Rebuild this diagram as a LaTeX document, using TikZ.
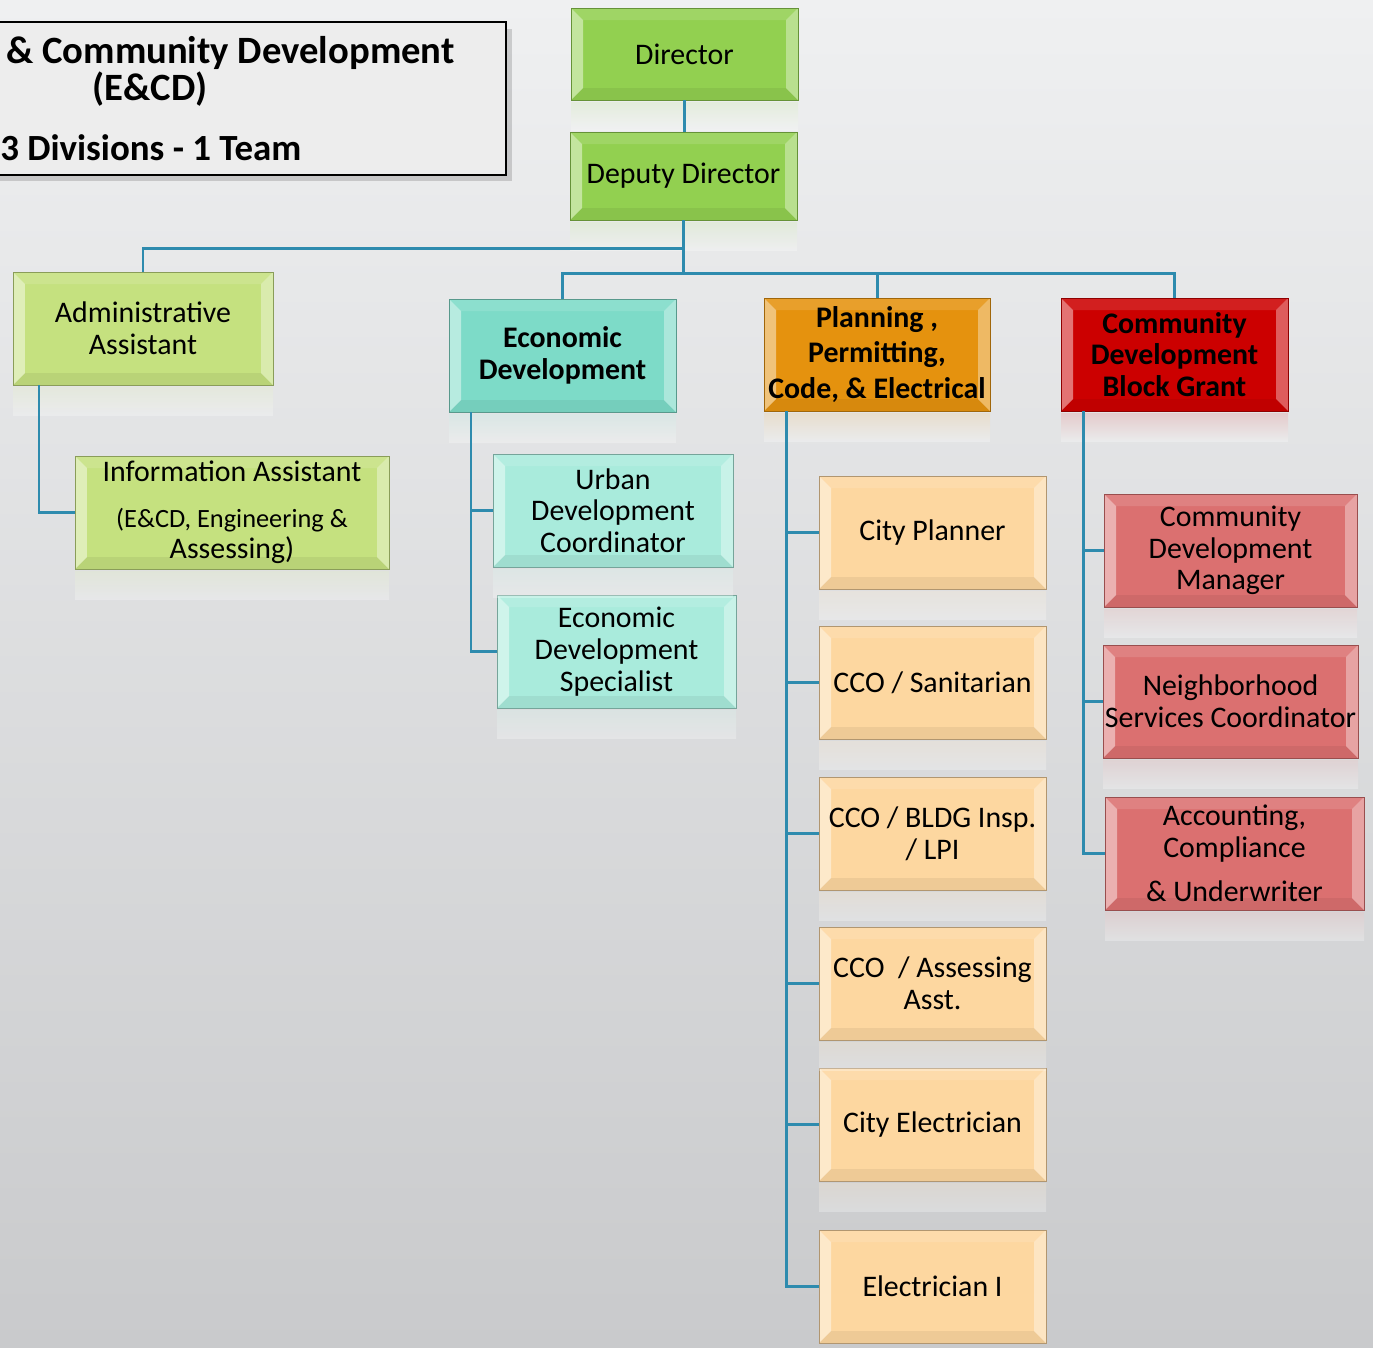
\documentclass[tikz,border=0pt]{standalone}
\usepackage{fontspec}
\setmainfont{Carlito}
\usetikzlibrary{calc}
\definecolor{conn}{HTML}{2E8BAE}
\definecolor{bgtop}{HTML}{EFF0F1}
\definecolor{bgbot}{HTML}{C9CACC}
\definecolor{cdir}{HTML}{92D050}
\definecolor{cadm}{HTML}{C5E17F}
\definecolor{ced}{HTML}{7DDBC8}
\definecolor{cedc}{HTML}{A9EBDC}
\definecolor{cpp}{HTML}{E5920E}
\definecolor{cppc}{HTML}{FDD7A0}
\definecolor{ccd}{HTML}{CC0000}
\definecolor{ccdc}{HTML}{DB7070}
\begin{document}
\begin{tikzpicture}[x=0.02cm,y=-0.02cm,
  wh/.style 2 args={minimum width=#1*0.02cm,minimum height=#2*0.02cm},
  bevel/.style={path picture={
    \coordinate (bsw) at (path picture bounding box.south west);
    \coordinate (bne) at (path picture bounding box.north east);
    \coordinate (bnw) at (bsw|-bne);
    \coordinate (bse) at (bne|-bsw);
    \fill[white,opacity=.45] (bsw) -- (bnw) -- ($(bnw)+(.24cm,-.24cm)$) -- ($(bsw)+(.24cm,.24cm)$) -- cycle;
    \fill[white,opacity=.36] (bse) -- (bne) -- ($(bne)+(-.24cm,-.24cm)$) -- ($(bse)+(-.24cm,.24cm)$) -- cycle;
    \fill[white,opacity=.12] (bnw) -- (bne) -- ($(bne)+(-.24cm,-.24cm)$) -- ($(bnw)+(.24cm,-.24cm)$) -- cycle;
    \fill[black,opacity=.06] (bsw) -- (bse) -- ($(bse)+(-.24cm,.24cm)$) -- ($(bsw)+(.24cm,.24cm)$) -- cycle;
  }},
  box/.style={rectangle,inner sep=0pt,outer sep=0pt,align=center,
    draw=#1!70!black,line width=0.5pt,fill=#1,
    font=\fontsize{17}{18}\selectfont,bevel},
  bold/.style={font=\fontsize{17}{18}\selectfont\bfseries},
  ppbold/.style={font=\fontsize{17}{20}\selectfont\bfseries},
  link/.style={draw=conn,line width=1.7pt},
  titletext/.style={inner sep=0pt,font=\fontsize{22}{26}\selectfont\bfseries}
]
\useasboundingbox (0,0) rectangle (1373,1347);
\shade[top color=bgtop,bottom color=bgbot] (0,0) rectangle (1373,1347);

% title box
\fill[black,opacity=.15] (0,29) rectangle (512,181);
\node[rectangle,draw=black,line width=1.6pt,fill=white!93!black,wh={510}{153},inner sep=0pt] (tbox) at (251,98.5) {};
\node[titletext,anchor=base east] (t1) at (455,63) {\& Community Development};
\node[titletext,anchor=base] (t2) at (150,100) {(E\&CD)};
\node[titletext,anchor=base west,font=\fontsize{21}{26}\selectfont\bfseries] (t3) at (0,160) {3 Divisions - 1 Team};

% boxes
\node[box=cdir,wh={227}{92}] (dir) at (684.5,54) {Director};
\node[box=cdir,wh={227}{88}] (dep) at (683.5,176) {Deputy Director};
\node[box=cadm,wh={260}{113}] (adm) at (143,328.5) {Administrative\\Assistant};
\node[box=cadm,wh={314}{113}] (info) at (232,512.5) {Information Assistant\\[8pt]\fontsize{15}{17}\selectfont (E\&CD, Engineering \&\\Assessing)};
\node[box=ced,wh={227}{113},bold] (ed) at (562.5,355.5) {Economic\\Development};
\node[box=cedc,wh={240}{113}] (udc) at (613,510.5) {Urban\\Development\\Coordinator};
\node[box=cedc,wh={239}{113}] (eds) at (616.5,651.5) {Economic\\Development\\Specialist};
\node[box=cpp,wh={226}{113},ppbold] (pp) at (877,354.5) {Planning ,\\Permitting,\\Code, \& Electrical};
\node[box=cppc,wh={227}{113}] (cp) at (932.5,532.5) {City Planner};
\node[box=cppc,wh={227}{113}] (san) at (932.5,682.5) {CCO / Sanitarian};
\node[box=cppc,wh={227}{113}] (bldg) at (932.5,833.5) {CCO / BLDG Insp.\\/ LPI};
\node[box=cppc,wh={227}{113}] (ass) at (932.5,983.5) {CCO~~/ Assessing\\Asst.};
\node[box=cppc,wh={227}{113}] (ele) at (932.5,1124.5) {City Electrician};
\node[box=cppc,wh={227}{113}] (el1) at (932.5,1286.5) {Electrician I};
\node[box=ccd,wh={227}{113},bold] (cd) at (1174.5,354.5) {Community\\Development\\Block Grant};
\node[box=ccdc,wh={253}{113}] (cdm) at (1230.5,550.5) {Community\\Development\\Manager};
\node[box=ccdc,wh={255}{113}] (nsc) at (1230.5,701.5) {Neighborhood\\Services Coordinator};
\node[box=ccdc,wh={259}{113}] (acu) at (1234.5,853.5) {Accounting,\\Compliance\\[7pt]\& Underwriter};

% reflections
\foreach \n/\c in {dir/cdir,dep/cdir,adm/cadm,info/cadm,ed/ced,udc/cedc,eds/cedc,pp/cpp,cp/cppc,san/cppc,bldg/cppc,ass/cppc,ele/cppc,cd/ccd,cdm/ccdc,nsc/ccdc,acu/ccdc}{
  \shade[top color=\c!45!white,bottom color=white,opacity=.28] ($(\n.south west)+(0,2)$) rectangle ($(\n.south east)+(0,30)$);
}

% connectors
\path (dep.south) ++(0,28) coordinate (busA) ++(0,25) coordinate (busB);
\draw[link] (dir.south) -- (dir.south |- dep.north);
\draw[link] (dep.south) -- (busB);
\draw[link] (busA) -| (adm.north);
\draw[link] (ed.north) |- (busB) -| (cd.north);
\draw[link] (busB) -| (pp.north);
\draw[link] ($(adm.south west)+(26,0)$) |- (info.west);
\draw[link] ($(ed.south west)+(22,0)$) |- (udc.west);
\draw[link] ($(ed.south west)+(22,0)$) |- (eds.west);
\foreach \c in {cp,san,bldg,ass,ele,el1}{
  \draw[link] ($(pp.south west)+(22,0)$) |- (\c.west);
}
\foreach \c in {cdm,nsc,acu}{
  \draw[link] ($(cd.south west)+(22,0)$) |- (\c.west);
}
\end{tikzpicture}
\end{document}
